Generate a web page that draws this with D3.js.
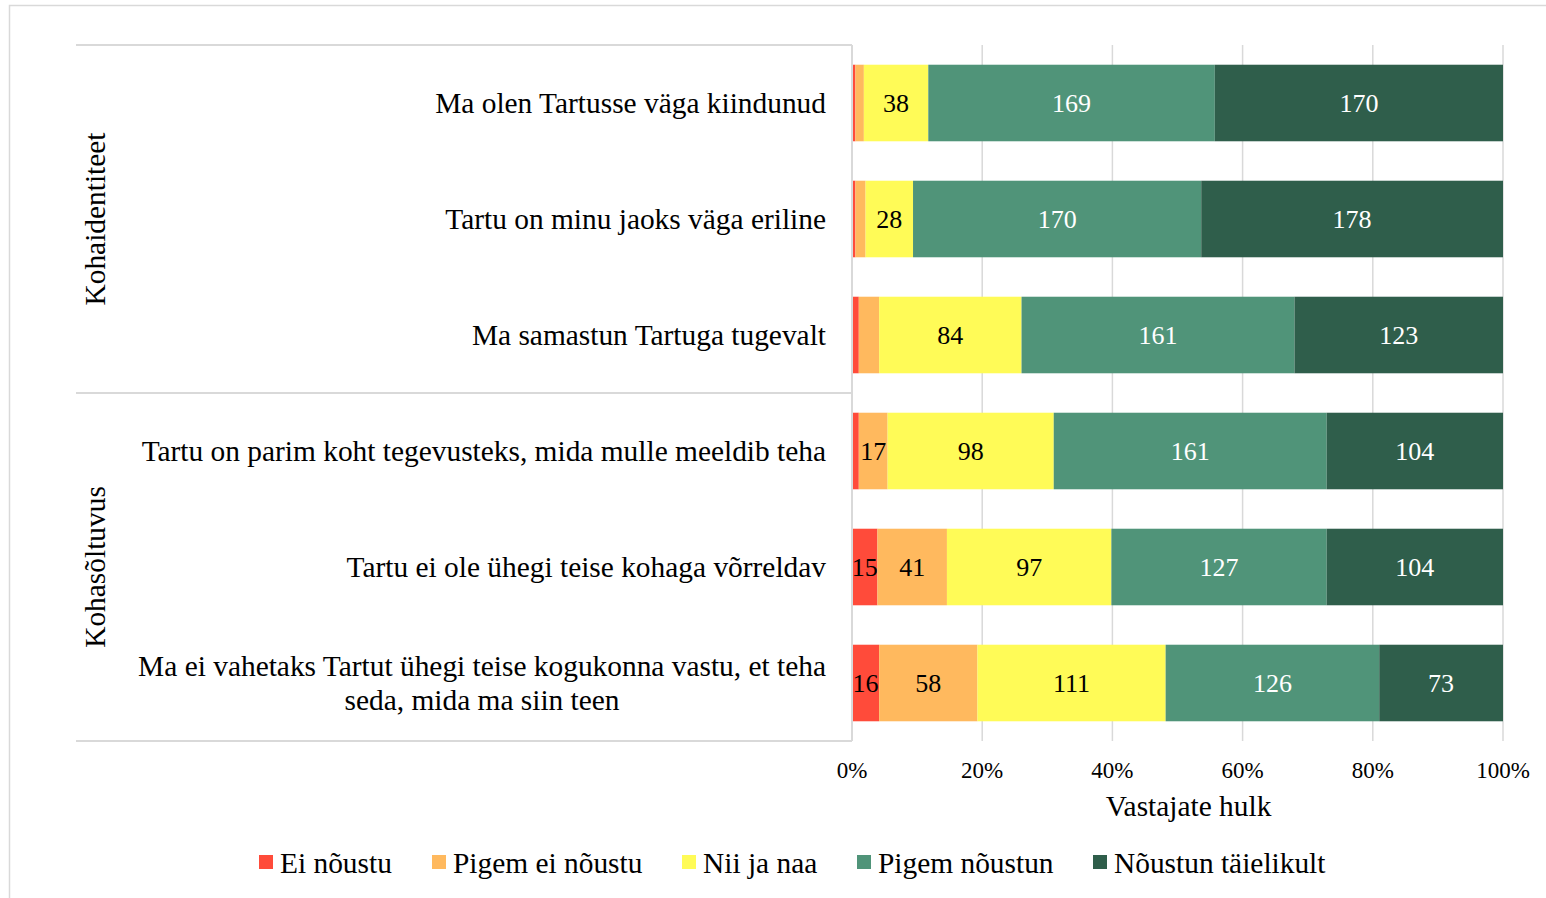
<!DOCTYPE html>
<html>
<head>
<meta charset="utf-8">
<script src="https://cdn.jsdelivr.net/npm/d3@7"></script>
<style>
  body { margin: 0; background: #fff; }
  text { font-family: "Liberation Serif", "Times New Roman", serif; }
</style>
</head>
<body>
<div id="chart"></div>
<script>
// andmed
var questions = [
    "Ma olen Tartusse väga kiindunud",
    "Tartu on minu jaoks väga eriline",
    "Ma samastun Tartuga tugevalt",
    "Tartu on parim koht tegevusteks, mida mulle meeldib teha",
    "Tartu ei ole ühegi teise kohaga võrreldav",
    "Ma ei vahetaks Tartut ühegi teise kogukonna vastu, et teha|seda, mida ma siin teen"
];
var groups = ["Kohaidentiteet", "Kohasõltuvus"];
var groupSizes = [3, 3];
var answers = ["Ei nõustu", "Pigem ei nõustu", "Nii ja naa", "Pigem nõustun", "Nõustun täielikult"];
var eiNoustu      = [2, 2, 4, 4, 15, 16];
var pigemEi       = [5, 6, 12, 17, 41, 58];
var niiJaNaa      = [38, 28, 84, 98, 97, 111];
var pigemNoustun  = [169, 170, 161, 161, 127, 126];
var taielikult    = [170, 178, 123, 104, 104, 73];
var ticks = [0, 0.2, 0.4, 0.6, 0.8, 1];

var colors = ["#FF4B3A", "#FFB95E", "#FFFB57", "#509479", "#2F5E4B"];
var labelColors = ["#000", "#000", "#000", "#fff", "#fff"];

var width = 1546, height = 898;
var x0 = 852, x1 = 1503, yTop = 45, yBot = 741;
var fs = 29.4;

var svg = d3.select("#chart").append("svg")
    .attr("width", width)
    .attr("height", height);

// välimine raam
svg.append("rect")
    .attr("x", 9.5).attr("y", 5.5)
    .attr("width", 1545).attr("height", 900)
    .attr("fill", "none").attr("stroke", "#d9d9d9").attr("stroke-width", 1.5);

var rows = questions.map(function(q, i) {
    return [eiNoustu[i], pigemEi[i], niiJaNaa[i], pigemNoustun[i], taielikult[i]];
});

var x = d3.scaleLinear().domain([0, 1]).range([x0, x1]);
var y = d3.scaleBand().domain(d3.range(questions.length)).range([yTop, yBot]).paddingInner(0.34).paddingOuter(0.17);

// ruudustik
svg.selectAll("line.grid")
    .data(ticks)
    .enter().append("line")
    .attr("x1", d => x(d)).attr("x2", d => x(d))
    .attr("y1", yTop).attr("y2", yBot)
    .attr("stroke", "#d9d9d9").attr("stroke-width", 1.5);

// grupi eraldusjooned
var bounds = [0, 3, 6];
svg.selectAll("line.sep")
    .data(bounds)
    .enter().append("line")
    .attr("x1", 76).attr("x2", x0)
    .attr("y1", d => yTop + d * (yBot - yTop) / questions.length)
    .attr("y2", d => yTop + d * (yBot - yTop) / questions.length)
    .attr("stroke", "#d9d9d9").attr("stroke-width", 2);

// tulbad
rows.forEach(function(vals, i) {
    var total = d3.sum(vals);
    var cum = 0;
    var g = svg.append("g");
    vals.forEach(function(v, k) {
        var a = cum / total, b = (cum + v) / total;
        cum += v;
        g.append("rect")
            .attr("x", x(a)).attr("y", y(i))
            .attr("width", x(b) - x(a)).attr("height", y.bandwidth())
            .attr("fill", colors[k]);
        if (x(b) - x(a) > 24) {
            g.append("text")
                .attr("x", (x(a) + x(b)) / 2)
                .attr("y", y(i) + y.bandwidth() / 2)
                .attr("dy", "0.35em")
                .attr("text-anchor", "middle")
                .attr("font-size", 26)
                .attr("fill", labelColors[k])
                .text(v);
        }
    });
});

// y-telg
svg.append("line")
    .attr("x1", x0).attr("x2", x0).attr("y1", yTop).attr("y2", yBot)
    .attr("stroke", "#d9d9d9").attr("stroke-width", 2);

// küsimuste sildid
questions.forEach(function(q, i) {
    var lines = q.split("|");
    var cy = y(i) + y.bandwidth() / 2;
    if (lines.length === 1) {
        svg.append("text")
            .attr("x", 826).attr("y", cy).attr("dy", "0.35em")
            .attr("text-anchor", "end").attr("font-size", fs)
            .text(q);
    } else {
        var t = svg.append("text").attr("font-size", fs).attr("text-anchor", "middle");
        var tmp = svg.append("text").attr("font-size", fs).text(lines[0]);
        var w = tmp.node().getComputedTextLength();
        tmp.remove();
        lines.forEach(function(l, j) {
            t.append("tspan")
                .attr("x", 826 - w / 2)
                .attr("y", cy + (j - (lines.length - 1) / 2) * 34)
                .attr("dy", "0.35em")
                .text(l);
        });
    }
});

// grupi sildid
var start = 0;
groups.forEach(function(gname, gi) {
    var mid = yTop + (start + groupSizes[gi] / 2) * (yBot - yTop) / questions.length;
    start += groupSizes[gi];
    svg.append("text")
        .attr("transform", "translate(95," + mid + ") rotate(-90)")
        .attr("dy", "0.35em")
        .attr("text-anchor", "middle").attr("font-size", fs)
        .text(gname);
});

// x-telje sildid
svg.selectAll("text.tick")
    .data(ticks)
    .enter().append("text")
    .attr("x", d => x(d)).attr("y", 770).attr("dy", "0.35em")
    .attr("text-anchor", "middle").attr("font-size", 23)
    .attr("fill", "#000")
    .text(d => d3.format(".0%")(d));

svg.append("text")
    .attr("x", (x0 + x1) / 2 + 11).attr("y", 806).attr("dy", "0.35em")
    .attr("text-anchor", "middle").attr("font-size", fs)
    .text("Vastajate hulk");

// legend
var legendX = [259, 432, 682, 857, 1093];
answers.forEach(function(a, k) {
    svg.append("rect")
        .attr("x", legendX[k]).attr("y", 855)
        .attr("width", 14).attr("height", 14)
        .attr("fill", colors[k]);
    svg.append("text")
        .attr("x", legendX[k] + 21).attr("y", 863).attr("dy", "0.35em")
        .attr("font-size", fs)
        .text(a);
});
</script>
</body>
</html>
